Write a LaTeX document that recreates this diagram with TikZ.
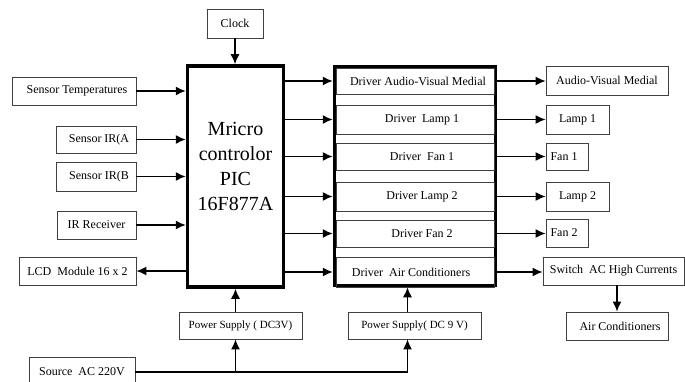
\documentclass[tikz,border=0pt]{standalone}
\usepackage{fontspec}
\setmainfont{Liberation Serif}
\usetikzlibrary{arrows.meta}
\begin{document}
\begin{tikzpicture}[x=1pt,y=-1pt,
  box/.style={draw=black!75, line width=0.8pt, rectangle, inner sep=0pt,
    font=\fontsize{12}{14}\selectfont},
  psbox/.style={box, font=\fontsize{11}{13}\selectfont},
  thick box/.style={draw=black, line width=3.5pt, rectangle, inner sep=0pt},
  arr/.style={line width=1.4pt, -{Latex[length=10pt,width=9pt]}},
  ln/.style={line width=1.3pt}]
\useasboundingbox (0,0) rectangle (685,382);
\clip (0,0) rectangle (685,382);
% microcontroller
\node[thick box, minimum width=96pt, minimum height=221pt] (mcu) at (235.5,176.5) {};
\node[align=center, inner sep=0pt, font=\fontsize{20}{25}\selectfont] (mcut) at (235.5,166) {Mricro\\controlor\\PIC\\16F877A};
\node[box, minimum width=56pt, minimum height=29pt] (clk) at (235,23.5) {Clock};
% inputs
\node[box, minimum width=124pt, minimum height=28pt] (st) at (74,91) {\hspace*{6pt}Sensor Temperatures};
\node[box, minimum width=80pt, minimum height=27pt] (ira) at (96,139.5) {\hspace*{6pt}Sensor IR(A};
\node[box, minimum width=80pt, minimum height=29pt] (irb) at (96,176.5) {\hspace*{6pt}Sensor IR(B};
\node[box, minimum width=79pt, minimum height=28pt] (irr) at (96.5,225) {IR Receiver};
\node[box, minimum width=117pt, minimum height=28pt] (lcd) at (77.5,271) {LCD\ \ Module 16 x 2};
% power
\node[psbox, minimum width=123pt, minimum height=27pt] (ps3) at (240.5,325.5) {Power Supply ( DC3V)};
\node[psbox, minimum width=133pt, minimum height=27pt] (ps9) at (414.5,325.5) {Power Supply( DC 9 V)};
\node[box, minimum width=106pt, minimum height=30pt] (src) at (82,372) {Source\ \ AC 220V};
% driver block
\node[thick box, minimum width=161pt, minimum height=219pt] (drv) at (415,176) {};
\node[box, minimum width=158pt, minimum height=26pt] (dav) at (415,81) {\hspace*{6pt}Driver Audio-Visual Medial};
\node[box, minimum width=158pt, minimum height=29pt] (dl1) at (415,119.5) {\hspace*{14pt}Driver\ \ Lamp 1};
\node[box, minimum width=158pt, minimum height=27pt] (df1) at (415,156.5) {\hspace*{14pt}Driver\ \ Fan 1};
\node[box, minimum width=158pt, minimum height=29pt] (dl2) at (415,196.5) {\hspace*{14pt}Driver Lamp 2};
\node[box, minimum width=158pt, minimum height=27pt] (df2) at (415,233.5) {\hspace*{14pt}Driver Fan 2};
\node[box, minimum width=158pt, minimum height=30pt] (dac) at (415,272) {Driver\ \ Air Conditioners\hspace*{8pt}};
% outputs
\node[box, minimum width=122pt, minimum height=29pt] (oav) at (607,80.5) {Audio-Visual Medial};
\node[box, minimum width=63pt, minimum height=29pt] (ol1) at (577.5,119.5) {Lamp 1};
\node[box, minimum width=42pt, minimum height=27pt] (of1) at (567,156.5) {Fan 1\hspace*{6pt}};
\node[box, minimum width=63pt, minimum height=29pt] (ol2) at (577.5,196.5) {Lamp 2};
\node[box, minimum width=42pt, minimum height=28pt] (of2) at (567,233) {Fan 2\hspace*{6pt}};
\node[box, minimum width=141pt, minimum height=28pt] (osw) at (613.5,271) {Switch\ \ AC High Currents};
\node[box, minimum width=102pt, minimum height=28pt] (oac) at (617,326) {\hspace*{6pt}Air Conditioners};
% connectors
\draw[arr] (clk.south) -- (clk.south |- mcu.north);
\draw[arr] (st.east) -- (st.east -| mcu.west);
\draw[arr] (ira.east) -- (ira.east -| mcu.west);
\draw[arr] (irb.east) -- (irb.east -| mcu.west);
\draw[arr] (irr.east) -- (irr.east -| mcu.west);
\draw[arr] (lcd.east -| mcu.west) -- (lcd.east);
\foreach \d in {dav,dl1,df1,dl2,df2,dac}
  \draw[arr] (mcu.east |- \d.west) -- (drv.west |- \d.west);
\draw[arr] (drv.east |- dav.east) -- (oav.west |- dav.east);
\draw[arr] (drv.east |- dl1.east) -- (ol1.west |- dl1.east);
\draw[arr] (drv.east |- df1.east) -- (of1.west |- df1.east);
\draw[arr] (drv.east |- dl2.east) -- (ol2.west |- dl2.east);
\draw[arr] (drv.east |- df2.east) -- (of2.west |- df2.east);
\draw[arr] (drv.east |- dac.east) -- (osw.west |- dac.east);
\draw[arr] (oac.north |- osw.south) -- (oac.north);
\draw[arr] (ps3.north -| mcu.south) -- (mcu.south);
\draw[arr] ([xshift=-7pt]ps9.north) -- ([xshift=-7pt]ps9.north |- drv.south);
\draw[arr] (src.east) -| ([xshift=-7pt]ps9.south);
\draw[arr] (src.east -| mcu.south) -- (ps3.south -| mcu.south);
\end{tikzpicture}
\end{document}
